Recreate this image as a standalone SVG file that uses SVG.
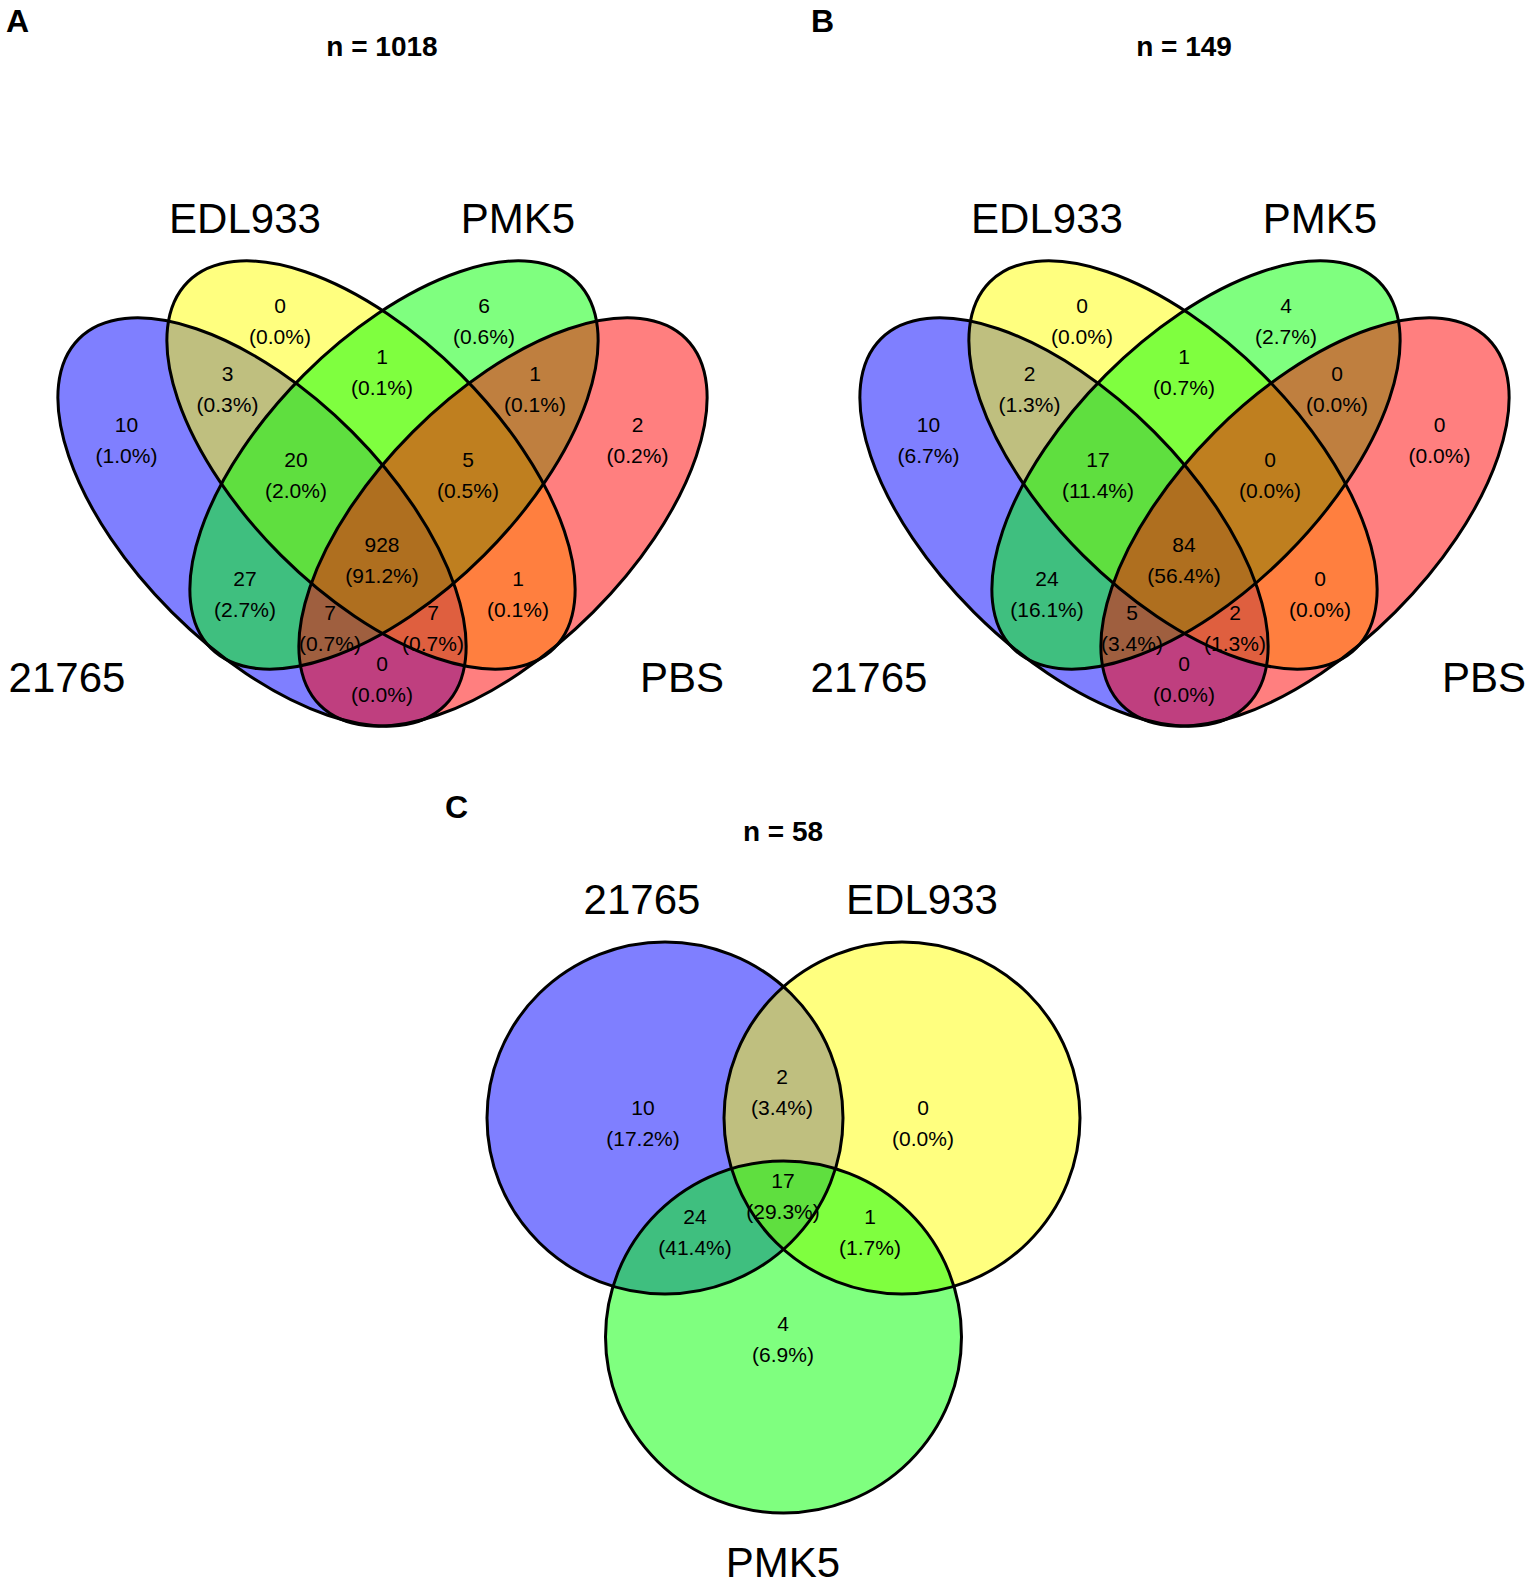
<svg xmlns="http://www.w3.org/2000/svg" xmlns:xlink="http://www.w3.org/1999/xlink" width="1529" height="1584" viewBox="0 0 1529 1584">
<style>
text{font-family:"Liberation Sans",Arial,sans-serif;fill:#000}
.n{font-size:21px;text-anchor:middle}
.set{font-size:42px;text-anchor:middle}
.title{font-size:28px;font-weight:bold;text-anchor:middle}
.panel{font-size:32px;font-weight:bold}
.ol{fill:none;stroke:#000;stroke-width:3}
.fb{fill:#0000FF;fill-opacity:0.5}
.fy{fill:#FFFF00;fill-opacity:0.5}
.fg{fill:#00FF00;fill-opacity:0.5}
.fr{fill:#FF0000;fill-opacity:0.5}
</style>
<defs>
<ellipse id="e1" cx="0" cy="0" rx="259" ry="127.5" transform="translate(262,522) rotate(45)"/>
<ellipse id="e2" cx="0" cy="0" rx="259" ry="127.5" transform="translate(371,465) rotate(45)"/>
<ellipse id="e3" cx="0" cy="0" rx="259" ry="127.5" transform="translate(394,465) rotate(-45)"/>
<ellipse id="e4" cx="0" cy="0" rx="259" ry="127.5" transform="translate(503,522) rotate(-45)"/>
</defs>
<rect width="1529" height="1584" fill="#fff"/>

<!-- Panel A -->
<g id="panelA">
<text class="panel" x="6" y="32">A</text>
<text class="title" x="382" y="56">n = 1018</text>
<g id="A-fills">
<use xlink:href="#e1" class="fb"/>
<use xlink:href="#e2" class="fy"/>
<use xlink:href="#e3" class="fg"/>
<use xlink:href="#e4" class="fr"/>
</g>
<g id="A-21765"><use xlink:href="#e1" class="ol"/><text class="set" x="67" y="692">21765</text></g>
<g id="A-EDL933"><use xlink:href="#e2" class="ol"/><text class="set" x="245" y="233">EDL933</text></g>
<g id="A-PMK5"><use xlink:href="#e3" class="ol"/><text class="set" x="518" y="233">PMK5</text></g>
<g id="A-PBS"><use xlink:href="#e4" class="ol"/><text class="set" x="682" y="692">PBS</text></g>
<g id="A-counts">
<text class="n" x="280" y="313">0</text><text class="n" x="280" y="344.3">(0.0%)</text>
<text class="n" x="484" y="313">6</text><text class="n" x="484" y="344.3">(0.6%)</text>
<text class="n" x="227.5" y="380.5">3</text><text class="n" x="227.5" y="411.8">(0.3%)</text>
<text class="n" x="382" y="363.5">1</text><text class="n" x="382" y="394.8">(0.1%)</text>
<text class="n" x="535" y="380.5">1</text><text class="n" x="535" y="411.8">(0.1%)</text>
<text class="n" x="126.5" y="432">10</text><text class="n" x="126.5" y="463.3">(1.0%)</text>
<text class="n" x="637.5" y="432">2</text><text class="n" x="637.5" y="463.3">(0.2%)</text>
<text class="n" x="296" y="466.5">20</text><text class="n" x="296" y="497.8">(2.0%)</text>
<text class="n" x="468" y="466.5">5</text><text class="n" x="468" y="497.8">(0.5%)</text>
<text class="n" x="382" y="551.5">928</text><text class="n" x="382" y="582.8">(91.2%)</text>
<text class="n" x="245" y="585.5">27</text><text class="n" x="245" y="616.8">(2.7%)</text>
<text class="n" x="518" y="585.5">1</text><text class="n" x="518" y="616.8">(0.1%)</text>
<text class="n" x="330" y="619.5">7</text><text class="n" x="330" y="650.8">(0.7%)</text>
<text class="n" x="433" y="619.5">7</text><text class="n" x="433" y="650.8">(0.7%)</text>
<text class="n" x="382" y="670.5">0</text><text class="n" x="382" y="701.8">(0.0%)</text>
</g>
</g>

<!-- Panel B -->
<g id="panelB">
<text class="panel" x="811" y="32">B</text>
<text class="title" x="1184" y="56">n = 149</text>
<g id="B-fills" transform="translate(802,0)">
<use xlink:href="#e1" class="fb"/>
<use xlink:href="#e2" class="fy"/>
<use xlink:href="#e3" class="fg"/>
<use xlink:href="#e4" class="fr"/>
</g>
<g id="B-21765"><use xlink:href="#e1" class="ol" transform="translate(802,0)"/><text class="set" x="869" y="692">21765</text></g>
<g id="B-EDL933"><use xlink:href="#e2" class="ol" transform="translate(802,0)"/><text class="set" x="1047" y="233">EDL933</text></g>
<g id="B-PMK5"><use xlink:href="#e3" class="ol" transform="translate(802,0)"/><text class="set" x="1320" y="233">PMK5</text></g>
<g id="B-PBS"><use xlink:href="#e4" class="ol" transform="translate(802,0)"/><text class="set" x="1484" y="692">PBS</text></g>
<g id="B-counts">
<text class="n" x="1082" y="313">0</text><text class="n" x="1082" y="344.3">(0.0%)</text>
<text class="n" x="1286" y="313">4</text><text class="n" x="1286" y="344.3">(2.7%)</text>
<text class="n" x="1029.5" y="380.5">2</text><text class="n" x="1029.5" y="411.8">(1.3%)</text>
<text class="n" x="1184" y="363.5">1</text><text class="n" x="1184" y="394.8">(0.7%)</text>
<text class="n" x="1337" y="380.5">0</text><text class="n" x="1337" y="411.8">(0.0%)</text>
<text class="n" x="928.5" y="432">10</text><text class="n" x="928.5" y="463.3">(6.7%)</text>
<text class="n" x="1439.5" y="432">0</text><text class="n" x="1439.5" y="463.3">(0.0%)</text>
<text class="n" x="1098" y="466.5">17</text><text class="n" x="1098" y="497.8">(11.4%)</text>
<text class="n" x="1270" y="466.5">0</text><text class="n" x="1270" y="497.8">(0.0%)</text>
<text class="n" x="1184" y="551.5">84</text><text class="n" x="1184" y="582.8">(56.4%)</text>
<text class="n" x="1047" y="585.5">24</text><text class="n" x="1047" y="616.8">(16.1%)</text>
<text class="n" x="1320" y="585.5">0</text><text class="n" x="1320" y="616.8">(0.0%)</text>
<text class="n" x="1132" y="619.5">5</text><text class="n" x="1132" y="650.8">(3.4%)</text>
<text class="n" x="1235" y="619.5">2</text><text class="n" x="1235" y="650.8">(1.3%)</text>
<text class="n" x="1184" y="670.5">0</text><text class="n" x="1184" y="701.8">(0.0%)</text>
</g>
</g>

<!-- Panel C -->
<g id="panelC">
<text class="panel" x="445" y="818">C</text>
<text class="title" x="783" y="841">n = 58</text>
<g id="C-fills">
<ellipse cx="665" cy="1118" rx="178" ry="176" class="fb"/>
<ellipse cx="902" cy="1118" rx="178" ry="176" class="fy"/>
<ellipse cx="783.5" cy="1337" rx="178" ry="176" class="fg"/>
</g>
<g id="C-21765"><ellipse cx="665" cy="1118" rx="178" ry="176" class="ol"/><text class="set" x="642" y="914">21765</text></g>
<g id="C-EDL933"><ellipse cx="902" cy="1118" rx="178" ry="176" class="ol"/><text class="set" x="922" y="914">EDL933</text></g>
<g id="C-PMK5"><ellipse cx="783.5" cy="1337" rx="178" ry="176" class="ol"/><text class="set" x="783" y="1577">PMK5</text></g>
<g id="C-counts">
<text class="n" x="643" y="1114.5">10</text><text class="n" x="643" y="1145.8">(17.2%)</text>
<text class="n" x="782" y="1083.5">2</text><text class="n" x="782" y="1114.8">(3.4%)</text>
<text class="n" x="923" y="1114.5">0</text><text class="n" x="923" y="1145.8">(0.0%)</text>
<text class="n" x="783" y="1188">17</text><text class="n" x="783" y="1219.3">(29.3%)</text>
<text class="n" x="695" y="1223.5">24</text><text class="n" x="695" y="1254.8">(41.4%)</text>
<text class="n" x="870" y="1223.5">1</text><text class="n" x="870" y="1254.8">(1.7%)</text>
<text class="n" x="783" y="1330.5">4</text><text class="n" x="783" y="1361.8">(6.9%)</text>
</g>
</g>
</svg>
